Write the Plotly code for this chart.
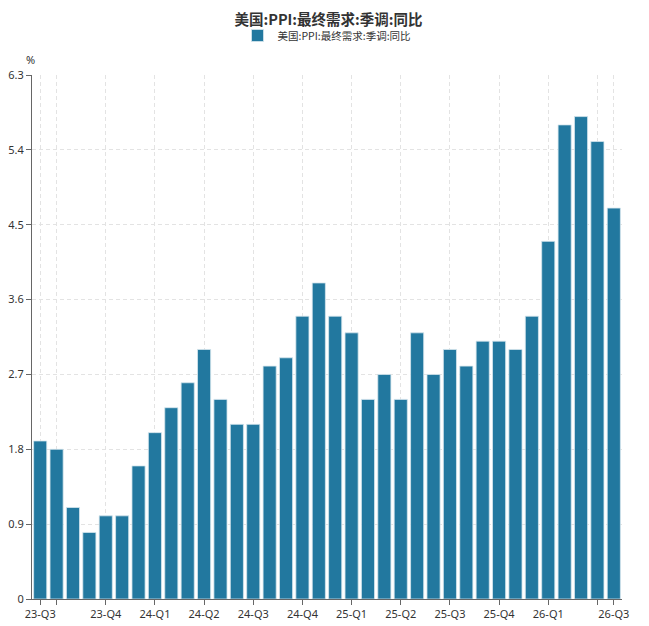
import plotly.graph_objects as go

categories = [f"m{i}" for i in range(36)]
values = [1.9, 1.8, 1.1, 0.8, 1.0, 1.0, 1.6, 2.0, 2.3, 2.6, 3.0, 2.4,
          2.1, 2.1, 2.8, 2.9, 3.4, 3.8, 3.4, 3.2, 2.4, 2.7, 2.4, 3.2,
          2.7, 3.0, 2.8, 3.1, 3.1, 3.0, 3.4, 4.3, 5.7, 5.8, 5.5, 4.7]
tick_idx = [0, 1, 4, 7, 10, 13, 16, 19, 22, 25, 28, 31, 34, 35]
tick_labels = ["23-Q3", "", "23-Q4", "24-Q1", "24-Q2", "24-Q3", "24-Q4",
               "25-Q1", "25-Q2", "25-Q3", "25-Q4", "26-Q1", "", "26-Q3"]
y_ticks = [0, 0.9, 1.8, 2.7, 3.6, 4.5, 5.4, 6.3]
y_labels = ["0", "0.9", "1.8", "2.7", "3.6", "4.5", "5.4", "6.3"]
series_name = "美国:PPI:最终需求:季调:同比"
title = "美国:PPI:最终需求:季调:同比"

W, H = 641, 618
L, R, T, B = 24, 27, 67, 27
PH = H - T - B

fig = go.Figure()
fig.add_trace(go.Bar(
    x=categories, y=values, name=series_name,
    marker=dict(color="#22789f", line=dict(color="#d6e6ee", width=0.8)),
    showlegend=True,
))

font_main = "Noto Sans, Noto Sans CJK SC, sans-serif"
fig.update_layout(
    width=W, height=H,
    margin=dict(l=L, r=R, t=T, b=B, autoexpand=False),
    plot_bgcolor="white", paper_bgcolor="white",
    bargap=0.2,
    title=dict(text=f"<b>{title}</b>", x=0.5, xanchor="center", y=1 - 11.5 / H, yanchor="middle",
               font=dict(family="Noto Sans CJK SC", size=14.5, color="#333")),
    legend=dict(orientation="h", x=0.5, xanchor="center", y=1 + (T - 27.5) / PH, yanchor="middle",
                font=dict(family="Noto Sans CJK SC", size=10.5, color="#333"),
                bgcolor="rgba(0,0,0,0)"),
    font=dict(family=font_main, size=11, color="#333"),
    xaxis=dict(
        type="category", range=[-0.5, 35.5], automargin=False,
        tickmode="array", tickvals=[categories[i] for i in tick_idx], ticktext=tick_labels,
        ticks="outside", ticklen=5, tickcolor="#666",
        showline=True, linecolor="#666", linewidth=1,
        showgrid=True, gridcolor="#e3e3e3", griddash="4px,3px", gridwidth=1,
        tickfont=dict(size=11, color="#333"), tickangle=0,
    ),
    yaxis=dict(
        range=[0, 6.3], automargin=False,
        tickmode="array", tickvals=y_ticks, ticktext=y_labels,
        ticks="outside", ticklen=5, tickcolor="#666",
        showline=True, linecolor="#666", linewidth=1,
        showgrid=True, gridcolor="#e3e3e3", griddash="4px,3px", gridwidth=1,
        zeroline=False, tickfont=dict(size=11, color="#333"),
    ),
    annotations=[dict(text="%", xref="paper", yref="paper", x=0, y=1, xanchor="center",
                      yanchor="bottom", yshift=6, xshift=-2, showarrow=False,
                      font=dict(size=11, color="#333"))],
)

fig.write_html("out.html")
